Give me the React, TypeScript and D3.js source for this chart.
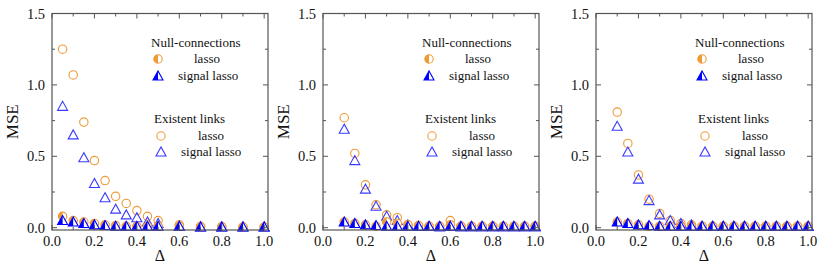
import * as d3 from 'd3';
import React from 'react';

// three panels of MSE vs delta
const deltaA = [0.05, 0.1, 0.15, 0.2, 0.25, 0.3, 0.35, 0.4, 0.45, 0.5, 0.6, 0.7, 0.8, 0.9, 1.0];
const existLassoA = [1.25, 1.07, 0.74, 0.47, 0.33, 0.22, 0.17, 0.12, 0.08, 0.05, 0.02, 0.01, 0.008, 0.005, 0.005];
const existSignalA = [0.85, 0.65, 0.49, 0.31, 0.21, 0.13, 0.09, 0.07, 0.04, 0.03, 0.01, 0.005, 0.005, 0.005, 0.005];
const nullLassoA = [0.08, 0.05, 0.04, 0.03, 0.02, 0.015, 0.01, 0.01, 0.01, 0.01, 0.01, 0.005, 0.005, 0.005, 0.005];
const nullSignalA = [0.05, 0.04, 0.03, 0.02, 0.015, 0.01, 0.01, 0.01, 0.01, 0.01, 0.01, 0.005, 0.005, 0.005, 0.005];

const deltaB = [0.1, 0.15, 0.2, 0.25, 0.3, 0.35, 0.4, 0.45, 0.5, 0.55, 0.6, 0.65, 0.7, 0.75, 0.8, 0.85, 0.9, 0.95, 1.0];
const existLassoB = [0.77, 0.52, 0.3, 0.16, 0.09, 0.07, 0.02, 0.015, 0.01, 0.01, 0.05, 0.01, 0.01, 0.01, 0.01, 0.01, 0.01, 0.01, 0.01];
const existSignalB = [0.69, 0.47, 0.27, 0.15, 0.08, 0.05, 0.02, 0.01, 0.01, 0.005, 0.01, 0.005, 0.005, 0.005, 0.005, 0.005, 0.005, 0.005, 0.005];
const nullLassoB = [0.04, 0.03, 0.02, 0.01, 0.04, 0.03, 0.02, 0.015, 0.01, 0.01, 0.02, 0.01, 0.01, 0.01, 0.01, 0.01, 0.01, 0.01, 0.01];
const nullSignalB = [0.04, 0.03, 0.02, 0.015, 0.01, 0.01, 0.01, 0.01, 0.01, 0.01, 0.01, 0.01, 0.01, 0.01, 0.01, 0.01, 0.01, 0.01, 0.01];

const deltaC = [0.1, 0.15, 0.2, 0.25, 0.3, 0.35, 0.4, 0.45, 0.5, 0.55, 0.6, 0.65, 0.7, 0.75, 0.8, 0.85, 0.9, 0.95, 1.0];
const existLassoC = [0.81, 0.59, 0.37, 0.2, 0.1, 0.05, 0.03, 0.02, 0.01, 0.01, 0.01, 0.01, 0.01, 0.01, 0.01, 0.01, 0.01, 0.01, 0.01];
const existSignalC = [0.71, 0.53, 0.34, 0.19, 0.09, 0.05, 0.03, 0.02, 0.01, 0.01, 0.01, 0.01, 0.01, 0.01, 0.01, 0.01, 0.01, 0.01, 0.01];
const nullLassoC = [0.04, 0.03, 0.02, 0.01, 0.01, 0.01, 0.01, 0.01, 0.01, 0.01, 0.01, 0.01, 0.01, 0.01, 0.01, 0.01, 0.01, 0.01, 0.01];
const nullSignalC = [0.04, 0.03, 0.02, 0.015, 0.01, 0.01, 0.01, 0.01, 0.01, 0.01, 0.01, 0.01, 0.01, 0.01, 0.01, 0.01, 0.01, 0.01, 0.01];

const panels = [
  { left: 52, delta: deltaA, existLasso: existLassoA, existSignal: existSignalA, nullLasso: nullLassoA, nullSignal: nullSignalA },
  { left: 323, delta: deltaB, existLasso: existLassoB, existSignal: existSignalB, nullLasso: nullLassoB, nullSignal: nullSignalB },
  { left: 596, delta: deltaC, existLasso: existLassoC, existSignal: existSignalC, nullLasso: nullLassoC, nullSignal: nullSignalC },
];

const xTicks = [0, 0.2, 0.4, 0.6, 0.8, 1.0];
const xMinor = [0.1, 0.3, 0.5, 0.7, 0.9];
const yTicks = [0, 0.5, 1.0, 1.5];
const yMinor = [0.25, 0.75, 1.25];

const W = 822, H = 267;
const top = 13.5, bottom = 230, panelW = 216;
const ORANGE = '#EE9A36';
const BLUE = '#0000FF';
const OPEN_BLUE = '#3a3aff';
const serif = { fontFamily: "'Liberation Serif', 'DejaVu Serif', serif" };

const R = 4.2;   // circle radius
const T = 5;     // triangle half width

const triPath = `M0,${-T} L${-T},${T * 0.8} L${T},${T * 0.8} Z`;
const triLeft = `M0,${-T} L${-T},${T * 0.8} L0,${T * 0.8} Z`;
const circLeft = `M0,${-R} A${R},${R} 0 0 0 0,${R} Z`;

const OpenCircle = ({ x, y }) => <circle cx={x} cy={y} r={R} fill="none" stroke={ORANGE} strokeWidth={1.1} />;
const OpenTri = ({ x, y }) => <path d={triPath} transform={`translate(${x},${y})`} fill="none" stroke={OPEN_BLUE} strokeWidth={1.1} />;
const HalfCircle = ({ x, y }) => (
  <g transform={`translate(${x},${y})`}>
    <circle r={R} fill="#fff" stroke={ORANGE} strokeWidth={1.1} />
    <path d={circLeft} fill={ORANGE} />
  </g>
);
const HalfTri = ({ x, y }) => (
  <g transform={`translate(${x},${y})`}>
    <path d={triPath} fill="#fff" stroke={BLUE} strokeWidth={1.1} />
    <path d={triLeft} fill={BLUE} />
  </g>
);

function Panel({ p }) {
  const x = d3.scaleLinear().domain([0, 1.018]).range([p.left, p.left + panelW]);
  const y = d3.scaleLinear().domain([-0.016, 1.5]).range([bottom, top]);
  const L = p.left;
  const R2 = p.left + panelW;
  const ax = '#555';
  return (
    <g>
      {p.delta.map((d, i) => <OpenCircle key={'el' + i} x={x(d)} y={y(p.existLasso[i])} />)}
      {p.delta.map((d, i) => <OpenTri key={'es' + i} x={x(d)} y={y(p.existSignal[i])} />)}
      {p.delta.map((d, i) => <HalfCircle key={'nl' + i} x={x(d)} y={y(p.nullLasso[i])} />)}
      {p.delta.map((d, i) => <HalfTri key={'ns' + i} x={x(d)} y={y(p.nullSignal[i])} />)}

      <rect x={L} y={top} width={panelW} height={bottom - top} fill="none" stroke={ax} strokeWidth={1.2} />
      {yTicks.map(t => (
        <g key={'y' + t}>
          <line x1={L} x2={L + 5} y1={y(t)} y2={y(t)} stroke={ax} />
          <line x1={R2} x2={R2 - 5} y1={y(t)} y2={y(t)} stroke={ax} />
          <text x={L - 7} y={y(t)} dy="0.35em" textAnchor="end" fontSize={14.5} style={serif} fill="#111">{t.toFixed(1)}</text>
        </g>
      ))}
      {yMinor.map(t => (
        <g key={'ym' + t}>
          <line x1={L} x2={L + 3} y1={y(t)} y2={y(t)} stroke={ax} />
          <line x1={R2} x2={R2 - 3} y1={y(t)} y2={y(t)} stroke={ax} />
        </g>
      ))}
      {xTicks.map(t => (
        <g key={'x' + t}>
          <line x1={x(t)} x2={x(t)} y1={bottom} y2={bottom - 5} stroke={ax} />
          <line x1={x(t)} x2={x(t)} y1={top} y2={top + 5} stroke={ax} />
          <text x={x(t)} y={bottom + 16} textAnchor="middle" fontSize={14.5} style={serif} fill="#111">{t.toFixed(1)}</text>
        </g>
      ))}
      {xMinor.map(t => (
        <g key={'xm' + t}>
          <line x1={x(t)} x2={x(t)} y1={bottom} y2={bottom - 3} stroke={ax} />
          <line x1={x(t)} x2={x(t)} y1={top} y2={top + 3} stroke={ax} />
        </g>
      ))}
      <text transform={`translate(${L - 34},${(top + bottom) / 2}) rotate(-90)`} textAnchor="middle" fontSize={17} style={serif} fill="#111">MSE</text>
      <text x={(L + R2) / 2} y={bottom + 31} textAnchor="middle" fontSize={16} style={serif} fill="#111">Δ</text>

      <g style={serif} fontSize={13} fill="#111">
        <text x={L + 99} y={47}>Null-connections</text>
        <HalfCircle x={L + 106} y={59} />
        <text x={L + 142} y={63}>lasso</text>
        <HalfTri x={L + 106} y={76} />
        <text x={L + 126} y={80}>signal lasso</text>
        <text x={L + 102} y={123}>Existent links</text>
        <OpenCircle x={L + 109} y={136} />
        <text x={L + 146} y={140}>lasso</text>
        <OpenTri x={L + 109} y={152} />
        <text x={L + 129} y={156}>signal lasso</text>
      </g>
    </g>
  );
}

export default function App() {
  return (
    <svg width={W} height={H} style={{ position: 'absolute', left: 0, top: 0, background: '#fff' }}>
      {panels.map((p, i) => <Panel key={i} p={p} />)}
    </svg>
  );
}
